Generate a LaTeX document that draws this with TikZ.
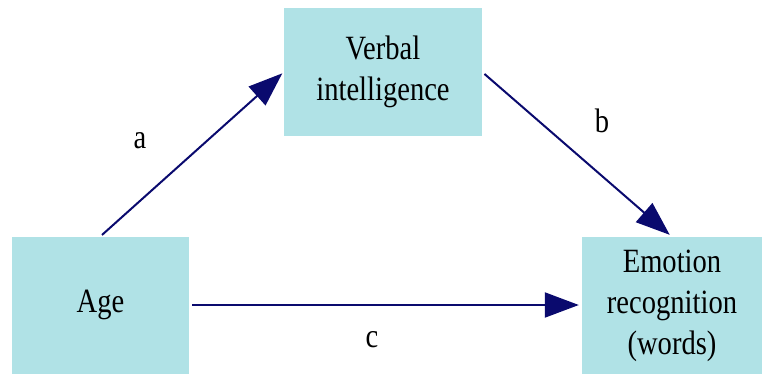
\documentclass[tikz,border=0pt]{standalone}
\usepackage{fontspec}
\setmainfont{Liberation Serif}
\usetikzlibrary{arrows.meta}

\definecolor{boxfill}{RGB}{176,226,230}
\definecolor{arrowcol}{RGB}{10,10,110}

\newcommand{\nar}[1]{\scalebox{0.84}[1]{#1}}

\tikzset{
  varbox/.style={fill=boxfill, draw=none, align=center, inner sep=0pt,
    font=\fontsize{34}{41}\selectfont},
  path/.style={draw=arrowcol, line width=2pt,
    -{Triangle[length=34pt, width=25pt, fill=arrowcol]}},
  lab/.style={font=\fontsize{34}{41}\selectfont}
}

\begin{document}
\begin{tikzpicture}[x=1pt, y=-1pt]
  \useasboundingbox (0,0) rectangle (767,374);

  % Boxes
  \node[varbox, minimum width=198pt, minimum height=128pt] (verbal) at (383,72) {\nar{Verbal}\\\nar{intelligence}};
  \node[varbox, minimum width=177pt, minimum height=137pt] (age) at (100.5,305) {\nar{Age}};
  \node[varbox, minimum width=180pt, minimum height=137pt] (emotion) at (672,305.5) {\nar{Emotion}\\\nar{recognition}\\\nar{(words)}};

  % Arrows
  \draw[path, shorten <=2pt, shorten >=2pt] (age.north) -- (verbal.west);
  \draw[path, shorten <=3pt, shorten >=3pt] (verbal.east) -- (emotion.north);
  \draw[path, shorten <=3pt, shorten >=3pt] (age.east) -- (age.east -| emotion.west);

  % Labels
  \node[lab] (la) at (140,141) {\nar{a}};
  \node[lab] (lb) at (602,121) {\nar{b}};
  \node[lab] (lc) at (372,340) {\nar{c}};
\end{tikzpicture}
\end{document}
